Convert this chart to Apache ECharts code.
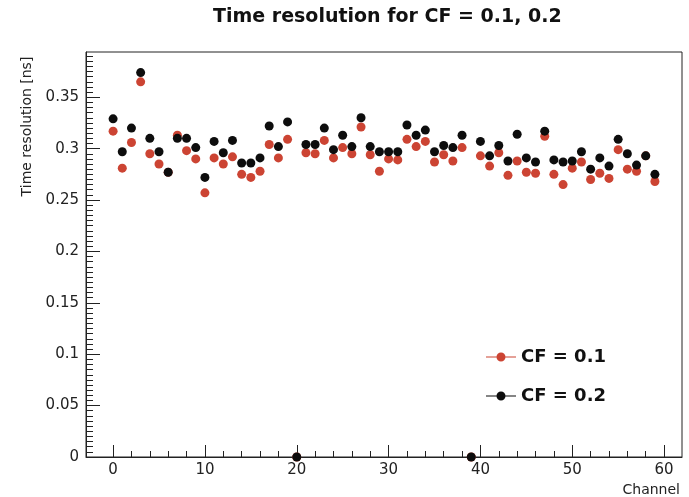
<!DOCTYPE html>
<html>
<head>
<meta charset="utf-8">
<script src="https://cdn.jsdelivr.net/npm/echarts@6/dist/echarts.min.js"></script>
<style>html,body{margin:0;padding:0;background:#fff;}#c{width:689px;height:497px;}</style>
</head>
<body>
<div id="c"></div>
<script>
var channels = [0,1,2,3,4,5,6,7,8,9,10,11,12,13,14,15,16,17,18,19,20,21,22,23,24,25,26,27,28,29,30,31,32,33,34,35,36,37,38,39,40,41,42,43,44,45,46,47,48,49,50,51,52,53,54,55,56,57,58,59];
var cf01 = [0.317,0.281,0.306,0.365,0.295,0.285,0.277,0.313,0.298,0.290,
            0.257,0.291,0.285,0.292,0.275,0.272,0.278,0.304,0.291,0.309,
            0,0.296,0.295,0.308,0.291,0.301,0.295,0.321,0.294,0.278,
            0.290,0.289,0.309,0.302,0.307,0.287,0.294,0.288,0.301,0,
            0.293,0.283,0.296,0.274,0.288,0.277,0.276,0.312,0.275,0.265,
            0.281,0.287,0.270,0.276,0.271,0.299,0.280,0.278,0.293,0.268];
var cf02 = [0.329,0.297,0.320,0.374,0.310,0.297,0.277,0.310,0.310,0.301,
            0.272,0.307,0.296,0.308,0.286,0.286,0.291,0.322,0.302,0.326,
            0,0.304,0.304,0.320,0.299,0.313,0.302,0.330,0.302,0.297,
            0.297,0.297,0.323,0.313,0.318,0.297,0.303,0.301,0.313,0,
            0.307,0.293,0.303,0.288,0.314,0.291,0.287,0.317,0.289,0.287,
            0.288,0.297,0.280,0.291,0.283,0.309,0.295,0.284,0.293,0.275];
var xMajor = [0,10,20,30,40,50,60];
var xMinor = [0,2,4,6,8,10,12,14,16,18,20,22,24,26,28,30,32,34,36,38,40,42,44,46,48,50,52,54,56,58,60];
var yMajor = [0,0.05,0.1,0.15,0.2,0.25,0.3,0.35];
var yMinor = [0,0.005,0.01,0.015,0.02,0.025,0.03,0.035,0.04,0.045,0.05,0.055,0.06,0.065,0.07,0.075,0.08,0.085,0.09,0.095,0.1,0.105,0.11,0.115,0.12,0.125,0.13,0.135,0.14,0.145,0.15,0.155,0.16,0.165,0.17,0.175,0.18,0.185,0.19,0.195,0.2,0.205,0.21,0.215,0.22,0.225,0.23,0.235,0.24,0.245,0.25,0.255,0.26,0.265,0.27,0.275,0.28,0.285,0.29,0.295,0.3,0.305,0.31,0.315,0.32,0.325,0.33,0.335,0.34,0.345,0.35,0.355,0.36,0.365,0.37,0.375,0.38,0.385,0.39];
var seriesNames = ['CF = 0.1','CF = 0.2'];
var seriesColors = ['#cc4433','#0d0d0d'];

function pairs(vals){ return channels.map(function(c,i){ return [c, vals[i]]; }); }
var FONT = 'DejaVu Sans';
var legendIcon = 'path://M0,3.9H30V5.1H0Z M19.5,4.5A4.5,4.5,0,1,1,10.5,4.5A4.5,4.5,0,1,1,19.5,4.5Z';

var chart = echarts.init(document.getElementById('c'), null, {renderer:'canvas'});
chart.setOption({
  animation: false,
  backgroundColor: '#fff',
  title: {
    text: 'Time resolution for CF = 0.1, 0.2',
    left: 213, top: 8, padding: 0,
    textStyle: {fontFamily: FONT, fontWeight: 'bold', fontSize: 19, color: '#111'}
  },
  legend: {
    orient: 'vertical', left: 481, top: 343,
    itemWidth: 30, itemHeight: 9, itemGap: 21,
    data: [{name: seriesNames[0], icon: legendIcon}, {name: seriesNames[1], icon: legendIcon}],
    itemStyle: {opacity: 1},
    textStyle: {fontFamily: FONT, fontWeight: 'bold', fontSize: 18, color: '#111'}
  },
  grid: {left: 86, right: 7, top: 52, bottom: 39, show: true, borderColor: '#222', borderWidth: 1, backgroundColor: 'transparent'},
  xAxis: [{
    type: 'value', min: -2.95, max: 61.95, position: 'bottom',
    name: 'Channel', nameLocation: 'end', nameGap: -2,
    nameTextStyle: {fontFamily: FONT, fontSize: 14, color: '#222', align: 'right', verticalAlign: 'top', padding: [26,0,0,0]},
    axisLine: {show: true, onZero: false, lineStyle: {color: '#222', width: 1}},
    axisTick: {show: true, inside: true, length: 12, customValues: xMajor, lineStyle: {color: '#222'}},
    axisLabel: {show: true, customValues: xMajor, margin: 6, fontFamily: FONT, fontSize: 15, color: '#222'},
    splitLine: {show: false}
  }, {
    type: 'value', min: -2.95, max: 61.95, position: 'bottom',
    axisLine: {show: false, onZero: false},
    axisTick: {show: true, inside: true, length: 6, customValues: xMinor, lineStyle: {color: '#222'}},
    axisLabel: {show: false},
    splitLine: {show: false}
  }],
  yAxis: [{
    type: 'value', min: 0, max: 0.394, position: 'left',
    name: 'Time resolution [ns]', nameLocation: 'middle', nameRotate: 90, nameGap: 52,
    nameTextStyle: {fontFamily: FONT, fontSize: 14, color: '#222', padding: [0,0,0,256]},
    axisLine: {show: true, onZero: false, lineStyle: {color: '#222', width: 1}},
    axisTick: {show: true, inside: true, length: 14, customValues: yMajor, lineStyle: {color: '#222'}},
    axisLabel: {show: true, customValues: yMajor, margin: 7, fontFamily: FONT, fontSize: 15, color: '#222',
      formatter: function(v){ return String(+v.toFixed(3)); }},
    splitLine: {show: false}
  }, {
    type: 'value', min: 0, max: 0.394, position: 'left', offset: 0,
    axisLine: {show: false, onZero: false},
    axisTick: {show: true, inside: true, length: 7, customValues: yMinor, lineStyle: {color: '#222'}},
    axisLabel: {show: false},
    splitLine: {show: false}
  }],
  series: [{
    name: seriesNames[0], type: 'scatter', xAxisIndex: 0, yAxisIndex: 0,
    symbol: 'circle', symbolSize: 9, clip: false,
    itemStyle: {color: seriesColors[0], opacity: 1},
    data: pairs(cf01)
  }, {
    name: seriesNames[1], type: 'scatter', xAxisIndex: 0, yAxisIndex: 0,
    symbol: 'circle', symbolSize: 9, clip: false,
    itemStyle: {color: seriesColors[1], opacity: 1},
    data: pairs(cf02)
  }]
});
</script>
</body>
</html>
